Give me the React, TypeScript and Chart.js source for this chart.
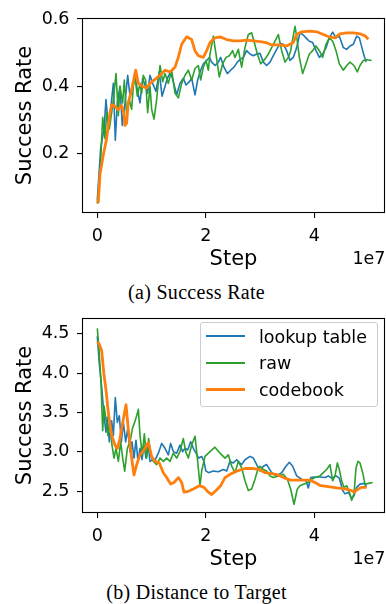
import React, { useEffect, useRef } from "react";
import { Chart, registerables } from "chart.js";

Chart.register(...registerables);

// ---------- data (steps in units of 1e7) ----------
const seriesNames = ["lookup table", "raw", "codebook"];
const seriesColors = ["#1f77b4", "#2ca02c", "#ff7f0e"];
const seriesWidths = [1.6, 1.6, 2.8];
const legendWidths = [2, 2, 3];

const xTicks = [0, 2, 4];
const successTicks = [0.2, 0.4, 0.6];
const distanceTicks = [2.5, 3.0, 3.5, 4.0, 4.5];

const captionA = "(a) Success Rate";
const captionB = "(b) Distance to Target";
const xLabel = "Step";
const yLabel = "Success Rate";
const xOffsetLabel = "1e7";

// (a) Success Rate
const srLookup: [number, number][] = [
  [0, 0.062], [0.062, 0.216], [0.124, 0.274], [0.16, 0.361], [0.203, 0.284], [0.246, 0.332],
  [0.296, 0.409], [0.332, 0.24], [0.369, 0.351], [0.418, 0.4], [0.461, 0.284], [0.511, 0.351],
  [0.56, 0.433], [0.603, 0.371], [0.652, 0.409], [0.695, 0.428], [0.738, 0.39], [0.787, 0.351],
  [0.836, 0.424], [0.879, 0.404], [0.928, 0.38], [0.971, 0.433], [1.02, 0.409], [1.082, 0.385],
  [1.143, 0.443], [1.193, 0.371], [1.248, 0.4], [1.291, 0.424], [1.352, 0.443], [1.401, 0.414],
  [1.463, 0.375], [1.524, 0.409], [1.586, 0.424], [1.635, 0.404], [1.696, 0.414], [1.74, 0.424],
  [1.801, 0.375], [1.85, 0.419], [1.905, 0.448], [1.955, 0.467], [2.016, 0.477], [2.065, 0.486],
  [2.108, 0.472], [2.17, 0.462], [2.231, 0.472], [2.274, 0.486], [2.335, 0.457], [2.397, 0.438],
  [2.458, 0.448], [2.52, 0.457], [2.581, 0.472], [2.643, 0.481], [2.692, 0.486], [2.753, 0.506],
  [2.815, 0.496], [2.876, 0.491], [2.938, 0.496], [2.999, 0.498], [3.06, 0.472], [3.122, 0.462],
  [3.183, 0.472], [3.245, 0.491], [3.306, 0.51], [3.368, 0.527], [3.429, 0.525], [3.49, 0.506],
  [3.552, 0.477], [3.613, 0.486], [3.675, 0.515], [3.736, 0.559], [3.786, 0.554], [3.847, 0.544],
  [3.908, 0.534], [3.97, 0.53], [4.031, 0.506], [4.093, 0.486], [4.154, 0.496], [4.216, 0.515],
  [4.277, 0.544], [4.339, 0.561], [4.4, 0.544], [4.461, 0.549], [4.535, 0.515], [4.597, 0.51],
  [4.658, 0.52], [4.719, 0.525], [4.781, 0.549], [4.83, 0.544], [4.892, 0.506], [4.953, 0.472],
];

const srRaw: [number, number][] = [
  [0, 0.052], [0.05, 0.139], [0.099, 0.308], [0.142, 0.245], [0.173, 0.322], [0.222, 0.274],
  [0.265, 0.322], [0.296, 0.361], [0.345, 0.438], [0.388, 0.313], [0.418, 0.4], [0.468, 0.351],
  [0.498, 0.419], [0.541, 0.313], [0.59, 0.361], [0.633, 0.332], [0.664, 0.4], [0.695, 0.428],
  [0.738, 0.371], [0.787, 0.409], [0.818, 0.38], [0.848, 0.433], [0.891, 0.419], [0.928, 0.322],
  [0.971, 0.4], [1.002, 0.332], [1.045, 0.303], [1.094, 0.361], [1.156, 0.462], [1.205, 0.414],
  [1.248, 0.438], [1.309, 0.409], [1.371, 0.448], [1.432, 0.38], [1.494, 0.366], [1.555, 0.409],
  [1.617, 0.433], [1.678, 0.448], [1.74, 0.419], [1.801, 0.453], [1.862, 0.462], [1.905, 0.419],
  [1.955, 0.457], [2.004, 0.477], [2.047, 0.448], [2.077, 0.496], [2.139, 0.549], [2.188, 0.496],
  [2.249, 0.428], [2.311, 0.467], [2.372, 0.486], [2.434, 0.491], [2.495, 0.506], [2.538, 0.486],
  [2.6, 0.51], [2.661, 0.457], [2.722, 0.515], [2.784, 0.554], [2.845, 0.559], [2.888, 0.534],
  [2.95, 0.496], [3.011, 0.467], [3.091, 0.481], [3.153, 0.496], [3.214, 0.515], [3.275, 0.534],
  [3.337, 0.554], [3.398, 0.506], [3.46, 0.472], [3.521, 0.486], [3.564, 0.506], [3.644, 0.578],
  [3.675, 0.549], [3.724, 0.486], [3.786, 0.438], [3.847, 0.467], [3.908, 0.496], [3.97, 0.506],
  [4.031, 0.52], [4.093, 0.506], [4.154, 0.486], [4.216, 0.525], [4.277, 0.544], [4.339, 0.534],
  [4.4, 0.506], [4.461, 0.467], [4.535, 0.448], [4.597, 0.462], [4.658, 0.472], [4.732, 0.462],
  [4.793, 0.443], [4.842, 0.462], [4.904, 0.477], [4.965, 0.479], [5.057, 0.477],
];

const srCodebook: [number, number][] = [
  [0, 0.062], [0.019, 0.057], [0.05, 0.139], [0.111, 0.197], [0.172, 0.245], [0.234, 0.322],
  [0.265, 0.346], [0.326, 0.341], [0.388, 0.331], [0.449, 0.343], [0.49, 0.32], [0.51, 0.284],
  [0.54, 0.29], [0.571, 0.351], [0.633, 0.39], [0.707, 0.448], [0.756, 0.409], [0.818, 0.401],
  [0.91, 0.395], [0.971, 0.409], [1.063, 0.421], [1.155, 0.433], [1.248, 0.448], [1.34, 0.443],
  [1.432, 0.457], [1.493, 0.486], [1.555, 0.525], [1.647, 0.547], [1.739, 0.539], [1.8, 0.506],
  [1.862, 0.491], [1.954, 0.486], [2.016, 0.506], [2.077, 0.53], [2.169, 0.544], [2.261, 0.547],
  [2.384, 0.539], [2.507, 0.535], [2.63, 0.535], [2.753, 0.537], [2.876, 0.535], [2.999, 0.533],
  [3.107, 0.53], [3.214, 0.523], [3.35, 0.523], [3.49, 0.52], [3.613, 0.53], [3.675, 0.554],
  [3.767, 0.562], [3.92, 0.564], [4.043, 0.562], [4.166, 0.554], [4.289, 0.546], [4.381, 0.544],
  [4.473, 0.556], [4.596, 0.559], [4.72, 0.559], [4.842, 0.556], [4.935, 0.55], [4.996, 0.54],
];

// (b) Distance to Target
const dtLookup: [number, number][] = [
  [0, 4.47], [0.037, 4.12], [0.08, 3.83], [0.124, 3.46], [0.16, 3.25], [0.185, 3.44],
  [0.222, 3.128], [0.265, 3.396], [0.296, 3.21], [0.332, 3.69], [0.369, 3.376], [0.406, 3.459],
  [0.443, 3.128], [0.48, 3.376], [0.523, 3.128], [0.56, 3.293], [0.603, 3.004], [0.64, 3.128],
  [0.677, 2.922], [0.713, 3.149], [0.75, 2.88], [0.787, 3.046], [0.824, 2.901], [0.861, 3.087],
  [0.898, 2.922], [0.935, 3.108], [0.971, 2.88], [1.02, 2.901], [1.069, 2.901], [1.125, 2.984],
  [1.186, 3.108], [1.248, 3.046], [1.309, 2.963], [1.352, 3.108], [1.401, 3.004], [1.463, 2.984],
  [1.524, 3.087], [1.574, 3.004], [1.617, 3.046], [1.666, 3.025], [1.721, 3.128], [1.77, 3.046],
  [1.82, 2.984], [1.869, 2.922], [1.924, 2.942], [1.967, 2.88], [2.0, 2.76], [2.05, 2.736],
  [2.139, 2.757], [2.231, 2.748], [2.323, 2.777], [2.385, 2.757], [2.446, 2.88], [2.507, 2.86],
  [2.569, 2.901], [2.661, 2.839], [2.722, 2.901], [2.815, 2.943], [2.876, 2.922], [2.938, 2.839],
  [2.999, 2.757], [3.06, 2.818], [3.122, 2.839], [3.214, 2.736], [3.306, 2.695], [3.398, 2.736],
  [3.478, 2.818], [3.54, 2.868], [3.601, 2.818], [3.675, 2.695], [3.767, 2.653], [3.847, 2.633],
  [3.89, 2.542], [3.933, 2.674], [4.013, 2.682], [4.105, 2.682], [4.197, 2.674], [4.259, 2.695],
  [4.32, 2.666], [4.4, 2.695], [4.461, 2.666], [4.523, 2.509], [4.566, 2.467], [4.627, 2.488],
  [4.689, 2.405], [4.732, 2.447], [4.781, 2.55], [4.842, 2.591], [4.916, 2.6], [4.965, 2.558],
];

const dtRaw: [number, number][] = [
  [0, 4.57], [0.025, 4.367], [0.068, 3.892], [0.099, 3.27], [0.124, 3.583], [0.16, 3.417],
  [0.197, 3.21], [0.234, 3.376], [0.271, 3.087], [0.308, 2.922], [0.345, 3.046], [0.388, 2.88],
  [0.431, 3.128], [0.468, 2.922], [0.505, 2.756], [0.554, 3.046], [0.603, 3.128], [0.646, 3.293],
  [0.689, 3.376], [0.726, 3.459], [0.757, 3.541], [0.787, 3.21], [0.83, 2.963], [0.867, 3.231],
  [0.91, 2.922], [0.947, 3.17], [0.984, 2.963], [1.033, 2.88], [1.094, 2.839], [1.156, 2.922],
  [1.217, 2.88], [1.279, 2.922], [1.34, 2.88], [1.401, 2.984], [1.463, 2.922], [1.524, 3.004],
  [1.586, 3.17], [1.629, 3.004], [1.678, 2.922], [1.74, 3.087], [1.801, 3.2], [1.85, 2.88],
  [1.893, 2.57], [1.924, 2.757], [1.985, 2.943], [2.077, 3.004], [2.169, 3.06], [2.262, 2.984],
  [2.354, 2.922], [2.415, 2.963], [2.477, 2.818], [2.538, 2.736], [2.6, 2.88], [2.661, 2.798],
  [2.722, 2.633], [2.784, 2.509], [2.845, 2.529], [2.907, 2.653], [2.95, 2.757], [2.999, 2.818],
  [3.06, 2.777], [3.122, 2.757], [3.183, 2.695], [3.245, 2.674], [3.337, 2.695], [3.429, 2.716],
  [3.503, 2.653], [3.564, 2.529], [3.626, 2.335], [3.687, 2.529], [3.736, 2.571], [3.81, 2.591],
  [3.89, 2.612], [3.951, 2.653], [4.013, 2.674], [4.105, 2.695], [4.166, 2.736], [4.228, 2.777],
  [4.289, 2.839], [4.338, 2.633], [4.381, 2.695], [4.425, 2.86], [4.461, 2.777], [4.504, 2.633],
  [4.547, 2.55], [4.597, 2.571], [4.646, 2.488], [4.689, 2.385], [4.732, 2.467], [4.769, 2.798],
  [4.806, 2.88], [4.842, 2.86], [4.892, 2.736], [4.934, 2.591], [4.996, 2.6], [5.076, 2.612],
];

const dtCodebook: [number, number][] = [
  [0, 4.4], [0.038, 4.367], [0.081, 4.285], [0.12, 4.0], [0.16, 3.79], [0.203, 3.5],
  [0.265, 3.21], [0.326, 3.087], [0.37, 3.045], [0.418, 3.17], [0.48, 3.42], [0.529, 3.6],
  [0.572, 3.29], [0.633, 2.922], [0.677, 2.707], [0.726, 2.84], [0.787, 2.963], [0.861, 3.025],
  [0.941, 3.12], [1.002, 2.942], [1.064, 2.88], [1.143, 2.86], [1.217, 2.736], [1.279, 2.674],
  [1.352, 2.591], [1.414, 2.612], [1.494, 2.674], [1.555, 2.612], [1.598, 2.488], [1.678, 2.5],
  [1.77, 2.53], [1.881, 2.571], [1.967, 2.55], [2.047, 2.488], [2.108, 2.459], [2.188, 2.509],
  [2.274, 2.571], [2.354, 2.674], [2.446, 2.715], [2.569, 2.756], [2.723, 2.789], [2.876, 2.789],
  [2.987, 2.777], [3.091, 2.736], [3.214, 2.723], [3.337, 2.707], [3.46, 2.666], [3.564, 2.641],
  [3.736, 2.641], [3.921, 2.641], [4.013, 2.612], [4.117, 2.571], [4.259, 2.558], [4.412, 2.542],
  [4.566, 2.53], [4.689, 2.509], [4.732, 2.488], [4.812, 2.53], [4.873, 2.55], [4.965, 2.55],
];

// ---------- chart setup ----------
const FONT = "'DejaVu Sans', 'Noto Sans', sans-serif";
const X_RANGE: [number, number] = [-0.282, 5.303];
const SR_RANGE: [number, number] = [0.0244, 0.6029];
const DT_RANGE: [number, number] = [2.2237, 4.702];
const CANVAS_W = 386;
const CANVAS_H = 276;

const framePlugin = {
  id: "mplFrame",
  afterDraw(chart: any) {
    const { ctx, chartArea: a } = chart;
    ctx.save();
    ctx.strokeStyle = "#000";
    ctx.lineWidth = 1.1;
    ctx.strokeRect(a.left + 0.5, a.top + 0.5, a.right - a.left - 1, a.bottom - a.top - 1);
    ctx.fillStyle = "#000";
    ctx.font = `17.5px ${FONT}`;
    ctx.textAlign = "right";
    ctx.textBaseline = "alphabetic";
    ctx.fillText(xOffsetLabel, a.right + 0.5, 263.5);
    ctx.restore();
  },
};

function buildChart(
  canvas: HTMLCanvasElement,
  series: [number, number][][],
  yRange: [number, number],
  yTicks: number[]
) {
  const tickFont = { family: FONT, size: 17.5 };
  const titleFont = { family: FONT, size: 21, lineHeight: 1.2 };
  return new Chart(canvas, {
    type: "line",
    data: {
      datasets: series.map((pts, i) => ({
        label: seriesNames[i],
        data: pts.map(([x, y]) => ({ x, y })),
        borderColor: seriesColors[i],
        backgroundColor: seriesColors[i],
        borderWidth: seriesWidths[i],
        pointRadius: 0,
        tension: 0,
        fill: false,
        borderJoinStyle: "round" as const,
        order: series.length - 1 - i,
      })),
    },
    options: {
      responsive: false,
      animation: false,
      devicePixelRatio: 1,
      events: [],
      layout: { padding: { left: 0, right: CANVAS_W - 385, top: 13, bottom: 0 } },
      plugins: { legend: { display: false }, tooltip: { enabled: false } },
      scales: {
        x: {
          type: "linear",
          min: X_RANGE[0],
          max: X_RANGE[1],
          afterBuildTicks: (s: any) => {
            s.ticks = xTicks.map((v) => ({ value: v }));
          },
          afterFit: (s: any) => {
            s.height = CANVAS_H - 213;
          },
          ticks: {
            font: tickFont,
            color: "#000",
            padding: 7.5,
            maxRotation: 0,
            autoSkip: false,
            callback: (v: any) => String(v),
          },
          grid: { drawOnChartArea: false, drawTicks: true, tickLength: 5, color: "#000", lineWidth: 1.1 },
          border: { display: false },
          title: {
            display: true,
            text: xLabel,
            font: titleFont,
            color: "#000",
            padding: { top: 0, bottom: 3.6 },
          },
        },
        y: {
          type: "linear",
          min: yRange[0],
          max: yRange[1],
          afterBuildTicks: (s: any) => {
            s.ticks = yTicks.map((v) => ({ value: v }));
          },
          afterFit: (s: any) => {
            s.width = 82;
          },
          ticks: {
            font: tickFont,
            color: "#000",
            padding: 7.5,
            autoSkip: false,
            callback: (v: any) => Number(v).toFixed(1),
          },
          grid: { drawOnChartArea: false, drawTicks: true, tickLength: 5, color: "#000", lineWidth: 1.1 },
          border: { display: false },
          title: {
            display: true,
            text: yLabel,
            font: titleFont,
            color: "#000",
            padding: { top: 12.7, bottom: 0 },
          },
        },
      },
    },
    plugins: [framePlugin],
  } as any);
}

function Panel({ series, yRange, yTicks, top }: any) {
  const ref = useRef<HTMLCanvasElement>(null);
  useEffect(() => {
    if (!ref.current) return;
    const chart = buildChart(ref.current, series, yRange, yTicks);
    return () => chart.destroy();
  }, []);
  return (
    <canvas
      ref={ref}
      width={CANVAS_W}
      height={CANVAS_H}
      style={{ position: "absolute", left: 0, top, width: CANVAS_W, height: CANVAS_H, display: "block" }}
    />
  );
}

const captionStyle = (top: number): React.CSSProperties => ({
  position: "absolute",
  left: 0,
  width: 393,
  top,
  textAlign: "center",
  fontFamily: "'Liberation Serif', 'Times New Roman', serif",
  fontSize: 20,
  lineHeight: "20px",
  letterSpacing: "0.3px",
  whiteSpace: "nowrap",
  color: "#000",
});

function Legend() {
  const baselines = [343.3, 370, 396.3];
  const lineTops = [335, 362, 388];
  return (
    <div>
      <div
        style={{
          position: "absolute",
          left: 200,
          top: 322,
          width: 177.5,
          height: 85,
          boxSizing: "border-box",
          border: "1px solid #cccccc",
          borderRadius: 3,
          background: "rgba(255,255,255,0.8)",
        }}
      />
      {seriesNames.map((name, i) => (
        <React.Fragment key={name}>
          <div
            style={{
              position: "absolute",
              left: 206,
              width: 39,
              top: lineTops[i],
              height: legendWidths[i],
              background: seriesColors[i],
            }}
          />
          <div
            style={{
              position: "absolute",
              left: 259,
              top: baselines[i] - 14.8,
              fontFamily: FONT,
              fontSize: 17.5,
              lineHeight: "17.5px",
              whiteSpace: "nowrap",
              color: "#000",
            }}
          >
            {name}
          </div>
        </React.Fragment>
      ))}
    </div>
  );
}

export default function App() {
  return (
    <div
      style={{
        position: "fixed",
        left: 0,
        top: 0,
        width: 386,
        height: 604,
        background: "#fff",
        overflow: "hidden",
      }}
    >
      <Panel series={[srLookup, srRaw, srCodebook]} yRange={SR_RANGE} yTicks={successTicks} top={0} />
      <div style={captionStyle(282)}>{captionA}</div>
      <Panel series={[dtLookup, dtRaw, dtCodebook]} yRange={DT_RANGE} yTicks={distanceTicks} top={300} />
      <Legend />
      <div style={captionStyle(582)}>{captionB}</div>
    </div>
  );
}
